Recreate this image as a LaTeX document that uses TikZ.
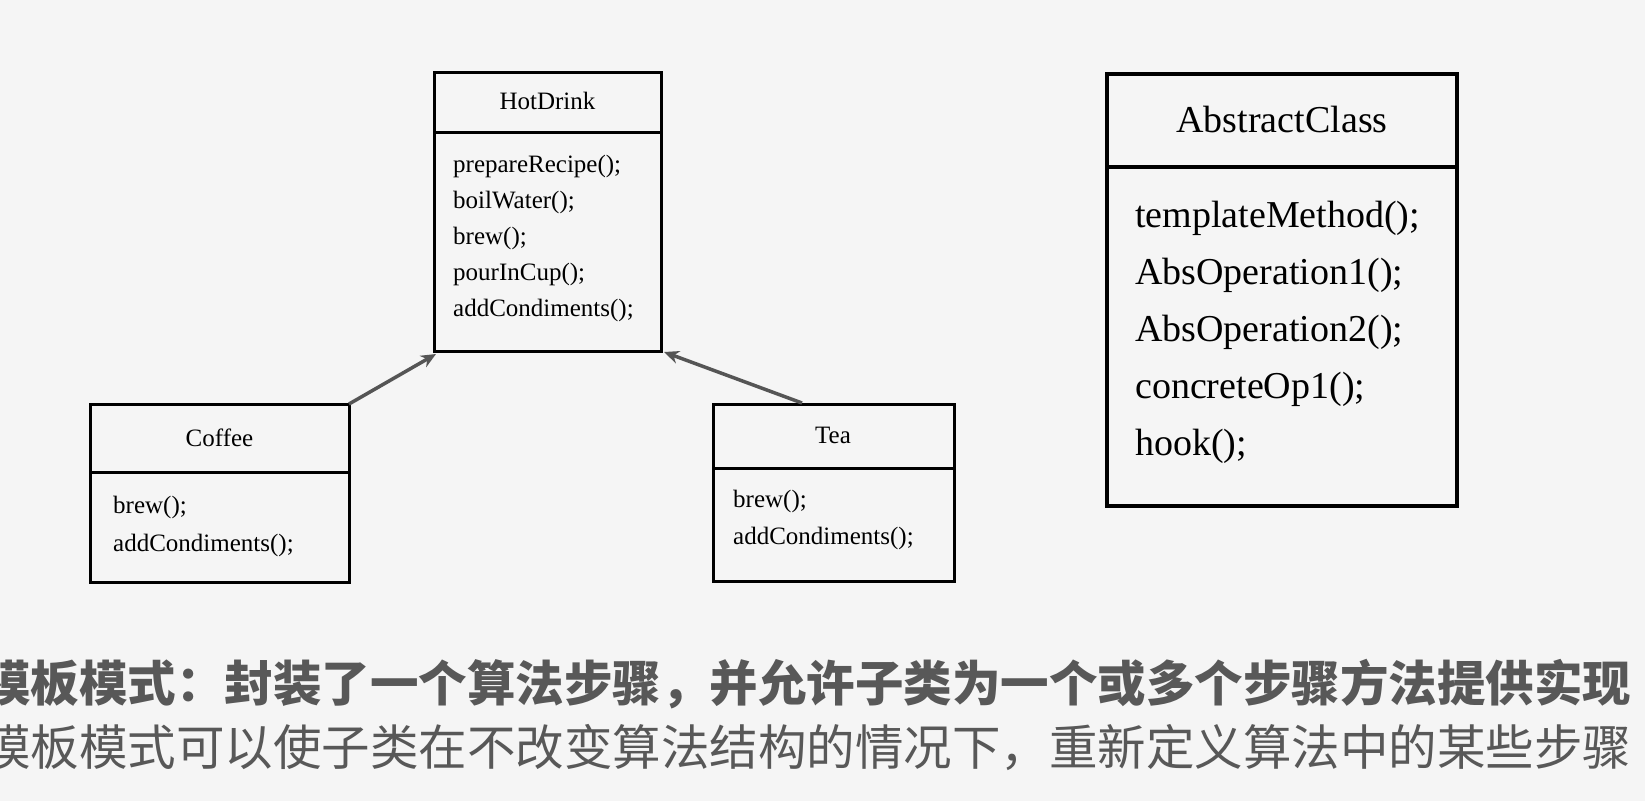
\documentclass[tikz,border=0pt]{standalone}
\usepackage{fontspec}
\setmainfont{Liberation Serif}
\newfontfamily\cjk{Noto Sans CJK SC}
\usetikzlibrary{arrows.meta,calc}
\definecolor{bg}{RGB}{245,245,245}
\definecolor{arrowgray}{RGB}{85,85,85}
\definecolor{txtgray}{RGB}{88,88,88}
\tikzset{
  classbox/.style={draw=black, fill=bg, line width=3pt, inner sep=0pt, outer sep=0pt, anchor=north west},
  bigbox/.style={classbox, line width=4pt},
  divider/.style={draw=black, line width=3pt},
  bigdivider/.style={draw=black, line width=3.5pt},
  small/.style={font=\fontsize{25}{30}\selectfont, inner sep=0pt},
  big/.style={font=\fontsize{38}{44}\selectfont, inner sep=0pt},
  inherit/.style={draw=arrowgray, line width=3.5pt, -{Stealth[length=15pt,width=13pt]}},
  cn/.style={inner sep=0pt, anchor=west, text=txtgray}
}
\begin{document}
\begin{tikzpicture}[x=1pt,y=-1pt]
\fill[bg] (0,0) rectangle (1645,801);
\useasboundingbox (0,0) rectangle (1645,801);

% HotDrink
\node[classbox, minimum width=227pt, minimum height=279pt] (hot) at (434,72) {};
\draw[divider] (434,132) -- (661,132);
\node[small, anchor=base] (hott) at (547.5,109) {HotDrink};
\node[small, anchor=base west] (hm1) at (453,172) {prepareRecipe();};
\node[small, anchor=base west] (hm2) at (453,208) {boilWater();};
\node[small, anchor=base west] (hm3) at (453,244) {brew();};
\node[small, anchor=base west] (hm4) at (453,280) {pourInCup();};
\node[small, anchor=base west] (hm5) at (453,316) {addCondiments();};

% Coffee
\node[classbox, minimum width=259pt, minimum height=178pt] (coffee) at (90,404) {};
\draw[divider] (90,472) -- (349,472);
\node[small, anchor=base] (cofft) at (219.5,446) {Coffee};
\node[small, anchor=base west] (cm1) at (113,513) {brew();};
\node[small, anchor=base west] (cm2) at (113,551) {addCondiments();};

% Tea
\node[classbox, minimum width=241pt, minimum height=177pt] (tea) at (713,404) {};
\draw[divider] (713,468) -- (954,468);
\node[small, anchor=base] (teat) at (833,443) {Tea};
\node[small, anchor=base west] (tm1) at (733,507) {brew();};
\node[small, anchor=base west] (tm2) at (733,544) {addCondiments();};

% AbstractClass
\node[bigbox, minimum width=350pt, minimum height=432pt] (abs) at (1107,74) {};
\draw[bigdivider] (1107,167) -- (1457,167);
\node[big, anchor=base] (abst) at (1282,132) {AbstractClass};
\node[big, anchor=base west] (am1) at (1135,227) {templateMethod();};
\node[big, anchor=base west] (am2) at (1135,284) {AbsOperation1();};
\node[big, anchor=base west] (am3) at (1135,341) {AbsOperation2();};
\node[big, anchor=base west] (am4) at (1135,398) {concreteOp1();};
\node[big, anchor=base west] (am5) at (1135,455) {hook();};

% inheritance arrows
\coordinate (cstart) at (coffee.north east);
\coordinate (cend) at (436,354);
\coordinate (tstart) at (802,403);
\coordinate (tend) at (664,352);
\draw[inherit] (cstart) -- (cend);
\draw[inherit] (tstart) -- (tend);

% captions
\node[cn, font=\cjk\bfseries\fontsize{48.5}{50}\selectfont] (cap1) at (-18,684) {模板模式：封装了一个算法步骤，并允许子类为一个或多个步骤方法提供实现};
\node[cn, font=\cjk\fontsize{48.5}{50}\selectfont] (cap2) at (-18,747) {模板模式可以使子类在不改变算法结构的情况下，重新定义算法中的某些步骤};
\end{tikzpicture}
\end{document}
